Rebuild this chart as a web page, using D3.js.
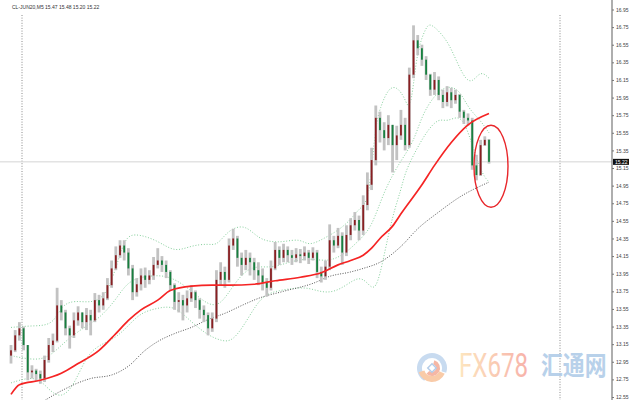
<!DOCTYPE html>
<html>
<head>
<meta charset="utf-8">
<script src="https://cdn.jsdelivr.net/npm/d3@7"></script>
<style>
  body { margin: 0; background: #fff; }
  svg { display: block; font-family: "Liberation Sans", Arial, sans-serif; }
</style>
</head>
<body>
<svg id="chart" width="640" height="400"></svg>
<script>
// CL M5 candles (open = previous close)
const firstOpen = 13.02;
const closes = [13.08,13.25,13.33,13.14,12.83,12.85,12.81,12.76,12.97,13.14,
  13.19,13.59,13.51,13.33,13.25,13.42,13.51,13.40,13.48,13.42,
  13.65,13.59,13.67,13.82,14.01,14.16,14.27,14.19,14.01,13.74,
  13.83,13.93,13.88,13.93,14.05,14.10,14.05,13.97,13.82,13.63,
  13.65,13.59,13.67,13.74,13.65,13.54,13.48,13.33,13.44,13.88,
  13.97,13.88,14.27,14.35,14.13,14.05,14.13,14.08,13.99,13.93,
  13.85,13.79,14.01,14.22,14.13,14.22,14.16,14.13,14.17,14.15,
  14.19,14.13,14.19,13.97,13.92,14.03,14.33,14.27,14.38,14.19,
  14.39,14.50,14.56,14.44,14.73,14.96,15.24,15.72,15.58,15.49,
  15.64,15.41,15.52,15.64,15.41,16.21,16.60,16.51,16.38,16.21,
  16.04,16.15,15.98,15.90,16.01,15.92,15.98,15.79,15.72,15.69,
  15.18,15.07,15.41,15.47,15.22];
const highs = [13.14,13.31,13.40,13.35,13.14,12.91,12.87,12.85,13.02,13.22,
  13.27,13.79,13.65,13.54,13.36,13.51,13.58,13.51,13.56,13.54,
  13.73,13.71,13.74,13.90,14.10,14.26,14.33,14.33,14.24,14.05,
  13.90,14.01,14.02,13.99,14.14,14.24,14.15,14.10,13.99,13.84,
  13.74,13.71,13.76,13.82,13.76,13.67,13.59,13.51,13.51,13.99,
  14.08,14.03,14.35,14.46,14.38,14.19,14.22,14.19,14.13,14.08,
  14.01,13.90,14.10,14.31,14.26,14.29,14.26,14.22,14.24,14.23,
  14.26,14.22,14.25,14.22,14.03,14.10,14.51,14.38,14.47,14.42,
  14.50,14.58,14.65,14.61,14.84,15.10,15.38,15.86,15.79,15.67,
  15.75,15.64,15.63,15.81,15.72,16.29,16.77,16.66,16.55,16.42,
  16.22,16.24,16.19,16.04,16.08,16.06,16.04,15.99,15.81,15.77,
  15.72,15.30,15.47,15.51,15.48];
const lows = [12.93,13.06,13.19,13.08,12.74,12.76,12.73,12.70,12.72,12.94,
  13.06,13.17,13.42,13.25,13.10,13.22,13.36,13.33,13.31,13.25,
  13.40,13.51,13.54,13.65,13.79,13.99,14.13,14.10,13.93,13.65,
  13.69,13.76,13.79,13.83,13.88,14.01,13.97,13.90,13.76,13.54,
  13.51,13.42,13.51,13.63,13.56,13.44,13.40,13.25,13.29,13.40,
  13.82,13.79,13.85,14.22,14.03,13.93,13.99,13.93,13.88,13.82,
  13.76,13.69,13.76,13.99,14.05,14.08,14.08,14.05,14.08,14.07,
  14.10,14.06,14.10,13.90,13.85,13.88,13.99,14.19,14.24,14.05,
  14.15,14.33,14.44,14.33,14.39,14.67,14.90,15.18,15.44,15.35,
  15.41,15.10,15.24,15.47,15.35,15.38,16.17,16.43,16.31,16.15,
  15.97,15.98,15.92,15.83,15.85,15.83,15.88,15.72,15.65,15.63,
  15.13,15.01,15.06,15.40,15.20];

// indicator lines as [bar, price], read at a few bars
const redMA = [[0,12.58],[2,12.69],[7,12.74],[12,12.82],[16,12.93],[21,13.08],[25,13.27],[28,13.42],
  [31,13.54],[35,13.65],[38,13.76],[43,13.81],[48,13.82],[52,13.82],[58,13.83],[63,13.87],[69,13.91],
  [74,13.96],[78,14.05],[81,14.10],[84,14.16],[86,14.24],[88,14.35],[91,14.49],[93,14.63],[98,14.96],
  [101,15.18],[105,15.44],[109,15.64],[114,15.77]];
const grayMA = [[8,12.51],[12,12.62],[19,12.76],[24,12.80],[28,12.90],[32,13.08],[35,13.18],[39,13.27],
  [43,13.34],[47,13.43],[51,13.50],[56,13.61],[59,13.67],[65,13.75],[72,13.84],[76,13.92],[81,13.97],
  [84,14.01],[88,14.08],[93,14.26],[97,14.46],[102,14.65],[107,14.82],[114,14.99]];
const bandUpper = [[0,13.34],[5,13.36],[10,13.36],[12,13.59],[15,13.65],[20,13.61],[23,13.74],[25,14.01],
  [27,14.33],[29,14.42],[35,14.33],[39,14.19],[43,14.27],[47,14.29],[49,14.27],[51,14.39],[53,14.47],
  [56,14.50],[59,14.35],[62,14.31],[65,14.31],[69,14.35],[71,14.26],[75,14.36],[78,14.44],[81,14.56],
  [83,14.69],[85,14.75],[86,15.13],[87,15.64],[88,15.83],[90,16.06],[92,16.08],[94,15.94],[95,15.79],
  [96,16.09],[97,16.51],[99,16.75],[100,16.80],[103,16.66],[105,16.51],[108,16.17],[110,16.11],
  [112,16.26],[114,16.17]];
const bandMiddle = [[0,13.02],[5,12.97],[9,12.99],[13,13.19],[18,13.36],[21,13.44],[25,13.65],[28,13.88],
  [33,13.93],[38,13.93],[43,13.76],[47,13.59],[50,13.59],[53,13.82],[57,14.05],[62,14.01],[66,14.08],
  [71,14.13],[76,14.08],[80,14.19],[83,14.33],[86,14.47],[89,14.90],[93,15.24],[96,15.44],[98,15.75],
  [101,15.98],[104,16.09],[107,16.04],[109,15.83],[112,15.69],[114,15.55]];
const bandLower = [[0,12.71],[6,12.80],[9,12.63],[12,12.53],[15,12.68],[18,13.02],[21,13.14],[25,13.22],
  [28,13.36],[31,13.51],[35,13.56],[39,13.59],[43,13.40],[47,13.25],[50,13.19],[53,13.17],[57,13.48],
  [60,13.71],[64,13.76],[68,13.79],[71,13.79],[74,13.74],[77,13.74],[80,13.82],[83,13.92],[85,13.85],
  [87,13.73],[89,14.16],[91,14.61],[93,14.90],[94,15.10],[96,15.30],[99,15.56],[102,15.72],[104,15.67],
  [107,15.76],[109,15.58],[112,15.10],[114,14.99]];

const priceTicks = [12.55,12.75,12.95,13.15,13.35,13.55,13.75,13.95,14.15,14.35,14.55,14.75,
  14.95,15.15,15.35,15.55,15.75,15.95,16.15,16.35,16.55,16.75,16.95];
const lastPrice = 15.22;
const title = "CL-JUN20,M5  15.47 15.48 15.20 15.22";

const svg = d3.select("#chart");
const axisX = 612;

const x = d3.scaleLinear().domain([0, closes.length - 1]).range([11, 489]);
const y = d3.scaleLinear().domain([12.55, 16.95]).range([397, 9.5]);

const candles = closes.map((c, i) => {
  const o = i ? closes[i - 1] : firstOpen;
  return { i, o, c, h: Math.max(highs[i], o, c), l: Math.min(lows[i], o, c) };
});

svg.append("defs").append("clipPath").attr("id", "plot")
  .append("rect").attr("x", 0).attr("y", 0).attr("width", axisX).attr("height", 400);

const plot = svg.append("g").attr("clip-path", "url(#plot)");

// period separators
[22, 560].forEach(px => {
  plot.append("line").attr("x1", px).attr("x2", px).attr("y1", 15).attr("y2", 400)
    .attr("stroke", "#8a8a8a").attr("stroke-width", 1).attr("stroke-dasharray", "1,1.6");
});

// current price line
plot.append("line").attr("x1", 0).attr("x2", axisX)
  .attr("y1", y(lastPrice)).attr("y2", y(lastPrice))
  .attr("stroke", "#d4d4d4").attr("stroke-width", 1);

const line = curve => d3.line().x(d => x(d[0])).y(d => y(d[1])).curve(curve);

// bollinger bands
[bandUpper, bandMiddle, bandLower].forEach(b => {
  plot.append("path").datum(b).attr("d", line(d3.curveBasis))
    .attr("fill", "none").attr("stroke", "#86cf9c").attr("stroke-width", 1)
    .attr("stroke-dasharray", "1,1.8");
});

// slow MA
plot.append("path").datum(grayMA).attr("d", line(d3.curveMonotoneX))
  .attr("fill", "none").attr("stroke", "#555").attr("stroke-width", 1)
  .attr("stroke-dasharray", "1,1.5");

// candles
const cg = plot.append("g");
cg.selectAll(".wick").data(candles).enter().append("rect")
  .attr("x", d => x(d.i) - 1.4).attr("width", 2.8)
  .attr("y", d => y(d.h)).attr("height", d => Math.max(1, y(d.l) - y(d.h)))
  .attr("fill", "#c2c2c2");
cg.selectAll(".body").data(candles).enter().append("rect")
  .attr("x", d => x(d.i) - 0.9).attr("width", 1.8)
  .attr("y", d => y(Math.max(d.o, d.c)))
  .attr("height", d => Math.max(1, Math.abs(y(d.o) - y(d.c))))
  .attr("fill", d => d.c >= d.o ? "#8a1f22" : "#17803f");

// fast MA
plot.append("path").datum(redMA).attr("d", line(d3.curveMonotoneX))
  .attr("fill", "none").attr("stroke", "#f52424").attr("stroke-width", 1.7);

// highlight ellipse round the last bars
plot.append("ellipse")
  .attr("cx", x(closes.length - 1) + 2).attr("cy", y(15.17))
  .attr("rx", 17).attr("ry", 41)
  .attr("fill", "none").attr("stroke", "#e8262a").attr("stroke-width", 1.4);

// watermark
const wm = svg.append("g").attr("opacity", 0.85);
const grad = svg.select("defs").append("linearGradient").attr("id", "fxg")
  .attr("x1", "0%").attr("x2", "100%");
grad.append("stop").attr("offset", "0%").attr("stop-color", "#fde2b4");
grad.append("stop").attr("offset", "100%").attr("stop-color", "#f6a59b");
const logo = wm.append("g").attr("transform", "translate(432,368)");
logo.append("path")
  .attr("d", d3.arc()({ innerRadius: 10, outerRadius: 15, startAngle: -2.6, endAngle: 1.9 }))
  .attr("fill", "#bfd5ee");
logo.append("path")
  .attr("d", d3.arc()({ innerRadius: 8, outerRadius: 14, startAngle: 2.0, endAngle: 4.4 }))
  .attr("fill", "#f8c29a");
logo.append("path")
  .attr("d", d3.arc()({ innerRadius: 4, outerRadius: 8, startAngle: 0.3, endAngle: 3.9 }))
  .attr("fill", "#f4ab96");
logo.append("rect").attr("x", -3).attr("y", -3).attr("width", 6).attr("height", 6)
  .attr("transform", "rotate(45)").attr("fill", "none")
  .attr("stroke", "#a9c5e6").attr("stroke-width", 1.5);
wm.append("text").attr("transform", "translate(459,377) scale(0.71,1)")
  .attr("font-size", 34).attr("font-family", "Roboto, 'Liberation Sans', sans-serif")
  .attr("fill", "url(#fxg)").text("FX678");
wm.append("text").attr("transform", "translate(541,375) scale(0.84,1)")
  .attr("font-size", 26).attr("font-weight", "bold")
  .attr("font-family", "'Noto Sans CJK SC', sans-serif")
  .attr("fill", "#acc9e7").text("汇通网");

// price axis
svg.append("line").attr("x1", axisX).attr("x2", axisX).attr("y1", 0).attr("y2", 400)
  .attr("stroke", "#8c8c8c").attr("stroke-width", 1.4);
const ax = svg.append("g").attr("transform", `translate(${axisX},0)`)
  .call(d3.axisRight(y).tickValues(priceTicks).tickSize(2).tickPadding(2)
    .tickFormat(d3.format(".2f")));
ax.select(".domain").remove();
ax.selectAll(".tick line").attr("stroke", "#777");
ax.selectAll(".tick text").attr("font-size", 5).attr("fill", "#444")
  .attr("font-family", "'Liberation Sans', Arial, sans-serif");

// last price box
svg.append("rect").attr("x", axisX + 1).attr("y", y(lastPrice) - 3)
  .attr("width", 16).attr("height", 6).attr("fill", "#111");
svg.append("text").attr("x", axisX + 3).attr("y", y(lastPrice) + 1.8)
  .attr("font-size", 5).attr("fill", "#fff").text(d3.format(".2f")(lastPrice));

// title
svg.append("text").attr("x", 12).attr("y", 9)
  .attr("font-size", 5).attr("fill", "#333").text(title);
</script>
</body>
</html>
